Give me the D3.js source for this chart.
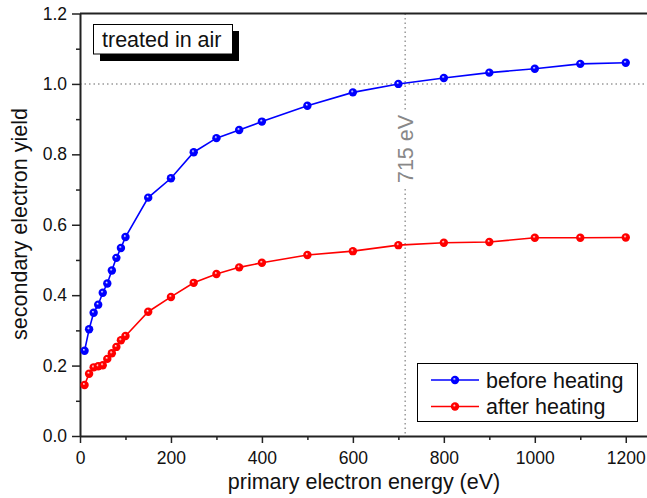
<!DOCTYPE html>
<html>
<head>
<meta charset="utf-8">
<script src="https://cdn.jsdelivr.net/npm/d3@7"></script>
<style>
  body { margin: 0; background: #fff; }
  text { font-family: "Liberation Sans", Arial, Helvetica, sans-serif; }
</style>
</head>
<body>
<div id="chart"></div>
<script>
// data
const energy = [10, 20, 30, 40, 50, 60, 70, 80, 90, 100, 150, 200, 250, 300, 350, 400, 500, 600, 700, 800, 900, 1000, 1100, 1200];
const beforeHeating = [0.242, 0.303, 0.350, 0.373, 0.407, 0.433, 0.470, 0.506, 0.534, 0.565, 0.677, 0.732, 0.806, 0.846, 0.869, 0.893, 0.938, 0.976, 1.000, 1.017, 1.032, 1.043, 1.057, 1.060];
const afterHeating = [0.145, 0.177, 0.195, 0.198, 0.201, 0.219, 0.235, 0.253, 0.272, 0.284, 0.353, 0.395, 0.435, 0.460, 0.479, 0.492, 0.514, 0.525, 0.542, 0.549, 0.551, 0.563, 0.563, 0.564];
const seriesNames = ["before heating", "after heating"];
const seriesColors = ["#0000ff", "#ff0000"];
const xMajor = [0, 200, 400, 600, 800, 1000, 1200];
const xMinor = [100, 300, 500, 700, 900, 1100];
const yMajor = [0.0, 0.2, 0.4, 0.6, 0.8, 1.0, 1.2];
const yMinor = [0.1, 0.3, 0.5, 0.7, 0.9, 1.1];
const markerEnergy = 715;

const width = 647;
const height = 498;

const svg = d3.select("#chart")
  .append("svg")
    .attr("width", width)
    .attr("height", height);

const x = d3.scaleLinear().domain([0, 1250]).range([80, 648.5]);
const y = d3.scaleLinear().domain([0, 1.2]).range([436, 13.5]);

// sphere-ish marker fills
const defs = svg.append("defs");
seriesColors.forEach((c, i) => {
  const g = defs.append("radialGradient")
    .attr("id", "ball" + i)
    .attr("cx", "50%").attr("cy", "50%")
    .attr("fx", "40%").attr("fy", "35%")
    .attr("r", "60%");
  g.append("stop").attr("offset", "0%").attr("stop-color", "#ffffff");
  g.append("stop").attr("offset", "30%").attr("stop-color", c);
  g.append("stop").attr("offset", "100%").attr("stop-color", c);
});

// reference lines
svg.append("line")
  .attr("x1", x(0)).attr("x2", width)
  .attr("y1", y(1)).attr("y2", y(1))
  .attr("stroke", "#999")
  .attr("stroke-width", 1.5)
  .attr("stroke-dasharray", "1.5,3");

svg.append("line")
  .attr("x1", x(markerEnergy)).attr("x2", x(markerEnergy))
  .attr("y1", y(1.2)).attr("y2", y(0))
  .attr("stroke", "#999")
  .attr("stroke-width", 1.5)
  .attr("stroke-dasharray", "1.5,3");

const vx = x(markerEnergy);
svg.append("rect")
  .attr("x", vx - 10).attr("y", 112)
  .attr("width", 20).attr("height", 74)
  .attr("fill", "#fff");
svg.append("text")
  .attr("transform", `translate(${vx + 8},149) rotate(-90)`)
  .attr("text-anchor", "middle")
  .attr("font-size", 21.5)
  .attr("fill", "#888")
  .text(markerEnergy + " eV");

// axes
const xAxis = svg.append("g")
  .attr("transform", `translate(0,${y(0)})`)
  .call(d3.axisBottom(x).tickValues(xMajor).tickSize(7).tickSizeOuter(0).tickPadding(5).tickFormat(d3.format("d")));
svg.append("g")
  .attr("transform", `translate(0,${y(0)})`)
  .call(d3.axisBottom(x).tickValues(xMinor).tickSize(4).tickFormat("").tickSizeOuter(0))
  .call(g => g.select(".domain").remove());

const yAxis = svg.append("g")
  .attr("transform", `translate(${x(0)},0)`)
  .call(d3.axisLeft(y).tickValues(yMajor).tickSize(8).tickSizeOuter(0).tickPadding(5).tickFormat(d3.format(".1f")));
svg.append("g")
  .attr("transform", `translate(${x(0)},0)`)
  .call(d3.axisLeft(y).tickValues(yMinor).tickSize(4).tickFormat("").tickSizeOuter(0))
  .call(g => g.select(".domain").remove());

svg.selectAll(".domain").attr("stroke-width", 2).attr("stroke", "#222");
svg.selectAll(".tick line").attr("stroke-width", 1.5).attr("stroke", "#222");
svg.selectAll(".tick text")
  .attr("font-size", 17.5)
  .attr("fill", "#111")
  .attr("font-family", "Liberation Sans, Arial, sans-serif");
xAxis.selectAll(".tick text").attr("dy", "0.9em");

// top frame (right side is off the picture)
svg.append("line")
  .attr("x1", x(0)).attr("x2", width)
  .attr("y1", y(1.2)).attr("y2", y(1.2))
  .attr("stroke", "#222")
  .attr("stroke-width", 2);

// axis titles
svg.append("text")
  .attr("x", 364).attr("y", 488.5)
  .attr("text-anchor", "middle")
  .attr("font-size", 21.5)
  .attr("fill", "#111")
  .text("primary electron energy (eV)");

svg.append("text")
  .attr("transform", "translate(27,224) rotate(-90)")
  .attr("text-anchor", "middle")
  .attr("font-size", 21.5)
  .attr("fill", "#111")
  .text("secondary electron yield");

// series
const series = [beforeHeating, afterHeating];
const line = d3.line()
  .x((d, i) => x(energy[i]))
  .y(d => y(d));

series.forEach((vals, s) => {
  svg.append("path")
    .datum(vals)
    .attr("d", line)
    .attr("fill", "none")
    .attr("stroke", seriesColors[s])
    .attr("stroke-width", 1.6);

  svg.selectAll(".pt" + s)
    .data(vals)
    .join("circle")
      .attr("class", "pt" + s)
      .attr("cx", (d, i) => x(energy[i]))
      .attr("cy", d => y(d))
      .attr("r", 4.2)
      .attr("fill", `url(#ball${s})`);
});

// "treated in air" label box with drop shadow
svg.append("rect")
  .attr("x", 100).attr("y", 31)
  .attr("width", 139).attr("height", 30)
  .attr("fill", "#000");
svg.append("rect")
  .attr("x", 93.5).attr("y", 24.5)
  .attr("width", 139).attr("height", 29.5)
  .attr("fill", "#fff")
  .attr("stroke", "#000")
  .attr("stroke-width", 1);
svg.append("text")
  .attr("x", 102).attr("y", 46.5)
  .attr("font-size", 21.5)
  .attr("fill", "#111")
  .text("treated in air");

// legend
const legend = svg.append("g");
legend.append("rect")
  .attr("x", 417.5).attr("y", 363.5)
  .attr("width", 220).attr("height", 58)
  .attr("fill", "#fff")
  .attr("stroke", "#000")
  .attr("stroke-width", 1);

seriesNames.forEach((name, s) => {
  const ly = 380 + s * 26.5;
  legend.append("line")
    .attr("x1", 431).attr("x2", 479)
    .attr("y1", ly).attr("y2", ly)
    .attr("stroke", seriesColors[s])
    .attr("stroke-width", 1.6);
  legend.append("circle")
    .attr("cx", 455).attr("cy", ly)
    .attr("r", 4.2)
    .attr("fill", `url(#ball${s})`);
  legend.append("text")
    .attr("x", 486).attr("y", ly + 7.8)
    .attr("font-size", 21.5)
    .attr("fill", "#111")
    .text(name);
});
</script>
</body>
</html>
